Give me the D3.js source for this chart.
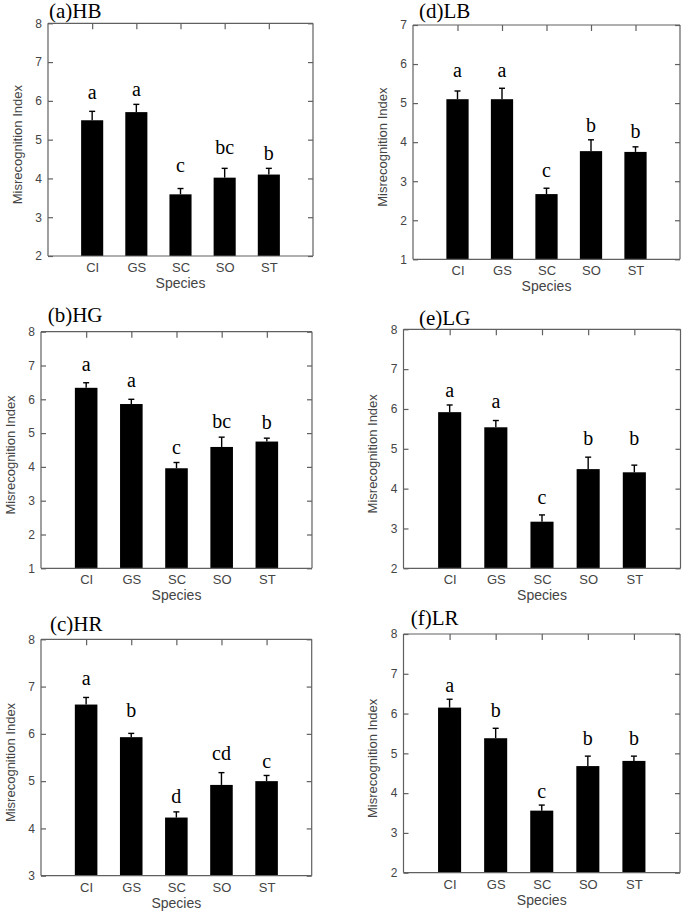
<!DOCTYPE html>
<html>
<head>
<meta charset="utf-8">
<script src="https://cdn.jsdelivr.net/npm/d3@7"></script>
<style>
  html, body { margin: 0; padding: 0; background: #fff; }
  svg { display: block; }
</style>
</head>
<body>
<svg id="chart" width="685" height="914"></svg>
<script>
// ---- data ----
const species = ["CI", "GS", "SC", "SO", "ST"];
const panelTitles = ["(a)HB", "(d)LB", "(b)HG", "(e)LG", "(c)HR", "(f)LR"];
const yDomains = [[2, 8], [1, 7], [1, 8], [2, 8], [3, 8], [2, 8]];

const meansHB = [5.50, 5.71, 3.59, 4.02, 4.10];
const errHB   = [0.23, 0.20, 0.15, 0.24, 0.16];
const lettersHB = ["a", "a", "c", "bc", "b"];
const letterYHB = [6.04, 6.12, 4.16, 4.64, 4.47];

const meansLB = [5.10, 5.10, 2.67, 3.77, 3.75];
const errLB   = [0.21, 0.28, 0.15, 0.29, 0.13];
const lettersLB = ["a", "a", "c", "b", "b"];
const letterYLB = [5.66, 5.66, 3.10, 4.27, 4.10];

const meansHG = [6.34, 5.86, 3.96, 4.59, 4.75];
const errHG   = [0.15, 0.14, 0.17, 0.29, 0.10];
const lettersHG = ["a", "a", "c", "bc", "b"];
const letterYHG = [6.84, 6.36, 4.37, 5.14, 5.11];

const meansLG = [5.92, 5.54, 3.17, 4.49, 4.41];
const errLG   = [0.18, 0.17, 0.17, 0.30, 0.18];
const lettersLG = ["a", "a", "c", "b", "b"];
const letterYLG = [6.31, 6.02, 3.62, 5.10, 5.10];

const meansHR = [6.62, 5.93, 4.23, 4.92, 5.00];
const errHR   = [0.15, 0.08, 0.12, 0.26, 0.12];
const lettersHR = ["a", "b", "d", "cd", "c"];
const letterYHR = [7.03, 6.35, 4.54, 5.45, 5.27];

const meansLR = [6.15, 5.38, 3.56, 4.68, 4.81];
const errLR   = [0.21, 0.25, 0.14, 0.25, 0.12];
const lettersLR = ["a", "b", "c", "b", "b"];
const letterYLR = [6.55, 5.91, 3.89, 5.21, 5.21];

const yAxisLabel = "Misrecognition Index";
const xAxisLabel = "Species";

// ---- layout ----
const panels = [
  { title: panelTitles[0], dom: yDomains[0], m: meansHB, e: errHB, l: lettersHB, ly: letterYHB,
    box: { x0: 48, x1: 313, y0: 23.3, y1: 256 }, tpos: [49, 18] },
  { title: panelTitles[1], dom: yDomains[1], m: meansLB, e: errLB, l: lettersLB, ly: letterYLB,
    box: { x0: 413, x1: 680, y0: 25, y1: 259.3 }, tpos: [419, 17.5] },
  { title: panelTitles[2], dom: yDomains[2], m: meansHG, e: errHG, l: lettersHG, ly: letterYHG,
    box: { x0: 41, x1: 312, y0: 331.7, y1: 568.3 }, tpos: [47.7, 321.7] },
  { title: panelTitles[3], dom: yDomains[3], m: meansLG, e: errLG, l: lettersLG, ly: letterYLG,
    box: { x0: 403.5, x1: 680.5, y0: 329.3, y1: 568.3 }, tpos: [419, 325] },
  { title: panelTitles[4], dom: yDomains[4], m: meansHR, e: errHR, l: lettersHR, ly: letterYHR,
    box: { x0: 41, x1: 311.7, y0: 639.3, y1: 875.7 }, tpos: [50, 630.7] },
  { title: panelTitles[5], dom: yDomains[5], m: meansLR, e: errLR, l: lettersLR, ly: letterYLR,
    box: { x0: 403.5, x1: 680, y0: 634, y1: 872.7 }, tpos: [410.7, 625] }
];

const svg = d3.select("#chart");
const frameColor = "#606060";
const textColor = "#444";
const sans = "Arial, 'Liberation Sans', Helvetica, sans-serif";
const serif = "'Times New Roman', 'Liberation Serif', serif";

panels.forEach(p => {
  const b = p.box;
  const x = d3.scalePoint().domain(species).range([b.x0, b.x1]).padding(1);
  const y = d3.scaleLinear().domain(p.dom).range([b.y1, b.y0]);
  const step = x.step();
  const bw = step * 0.5;
  const g = svg.append("g");
  const rows = species.map((s, i) => ({ s, v: p.m[i], e: p.e[i], l: p.l[i], ly: p.ly[i] }));

  // bars
  g.selectAll("rect.bar").data(rows).join("rect")
    .attr("x", d => x(d.s) - bw / 2)
    .attr("y", d => y(d.v))
    .attr("width", bw)
    .attr("height", d => y(p.dom[0]) - y(d.v))
    .attr("fill", "#000");

  // error bars (upper)
  g.selectAll("line.err").data(rows).join("line")
    .attr("x1", d => x(d.s)).attr("x2", d => x(d.s))
    .attr("y1", d => y(d.v)).attr("y2", d => y(d.v + d.e))
    .attr("stroke", "#000").attr("stroke-width", 1.4);
  g.selectAll("line.cap").data(rows).join("line")
    .attr("x1", d => x(d.s) - 3).attr("x2", d => x(d.s) + 3)
    .attr("y1", d => y(d.v + d.e)).attr("y2", d => y(d.v + d.e))
    .attr("stroke", "#000").attr("stroke-width", 1.4);

  // significance letters
  g.selectAll("text.let").data(rows).join("text")
    .attr("x", d => x(d.s)).attr("y", d => y(d.ly))
    .attr("text-anchor", "middle")
    .attr("font-family", serif).attr("font-size", 20)
    .attr("fill", "#000")
    .text(d => d.l);

  // axes
  const yTicks = d3.range(p.dom[0], p.dom[1] + 1);
  const left = g.append("g").attr("transform", `translate(${b.x0},0)`)
    .call(d3.axisRight(y).tickValues(yTicks).tickSize(5).tickFormat(""));
  const right = g.append("g").attr("transform", `translate(${b.x1},0)`)
    .call(d3.axisLeft(y).tickValues(yTicks).tickSize(5).tickFormat(""));
  const top = g.append("g").attr("transform", `translate(0,${b.y0})`)
    .call(d3.axisBottom(x).tickSize(6).tickFormat(""));
  const bottom = g.append("g").attr("transform", `translate(0,${b.y1})`)
    .call(d3.axisBottom(x).tickSize(0).tickPadding(5));
  [left, right, top, bottom].forEach(a => {
    a.select(".domain").attr("stroke", frameColor).attr("stroke-width", 1.2);
    a.selectAll(".tick line").attr("stroke", frameColor).attr("stroke-width", 1.2);
  });
  bottom.select(".domain").attr("d", `M${b.x0},0H${b.x1}`);
  top.select(".domain").attr("d", `M${b.x0},0H${b.x1}`);
  left.select(".domain").attr("d", `M0,${b.y0}V${b.y1}`);
  right.select(".domain").attr("d", `M0,${b.y0}V${b.y1}`);
  bottom.selectAll(".tick text")
    .attr("font-family", sans).attr("font-size", 13).attr("fill", textColor)
    .attr("dy", null).attr("y", 16);

  // y tick labels
  g.selectAll("text.yt").data(yTicks).join("text")
    .attr("x", b.x0 - 6).attr("y", d => y(d))
    .attr("dy", "0.36em")
    .attr("text-anchor", "end")
    .attr("font-family", sans).attr("font-size", 12).attr("fill", textColor)
    .text(d => d);

  // axis titles
  g.append("text")
    .attr("x", (b.x0 + b.x1) / 2).attr("y", b.y1 + 32)
    .attr("text-anchor", "middle")
    .attr("font-family", sans).attr("font-size", 14).attr("fill", textColor)
    .text(xAxisLabel);
  g.append("text")
    .attr("transform", `translate(${b.x0 - 31},${(b.y0 + b.y1) / 2 + 5}) rotate(-90)`)
    .attr("text-anchor", "middle").attr("dominant-baseline", "central")
    .attr("font-family", sans).attr("font-size", 13).attr("fill", textColor)
    .text(yAxisLabel);

  // panel title
  g.append("text")
    .attr("x", p.tpos[0]).attr("y", p.tpos[1])
    .attr("font-family", serif).attr("font-size", 21).attr("fill", "#000")
    .text(p.title);
});
</script>
</body>
</html>
